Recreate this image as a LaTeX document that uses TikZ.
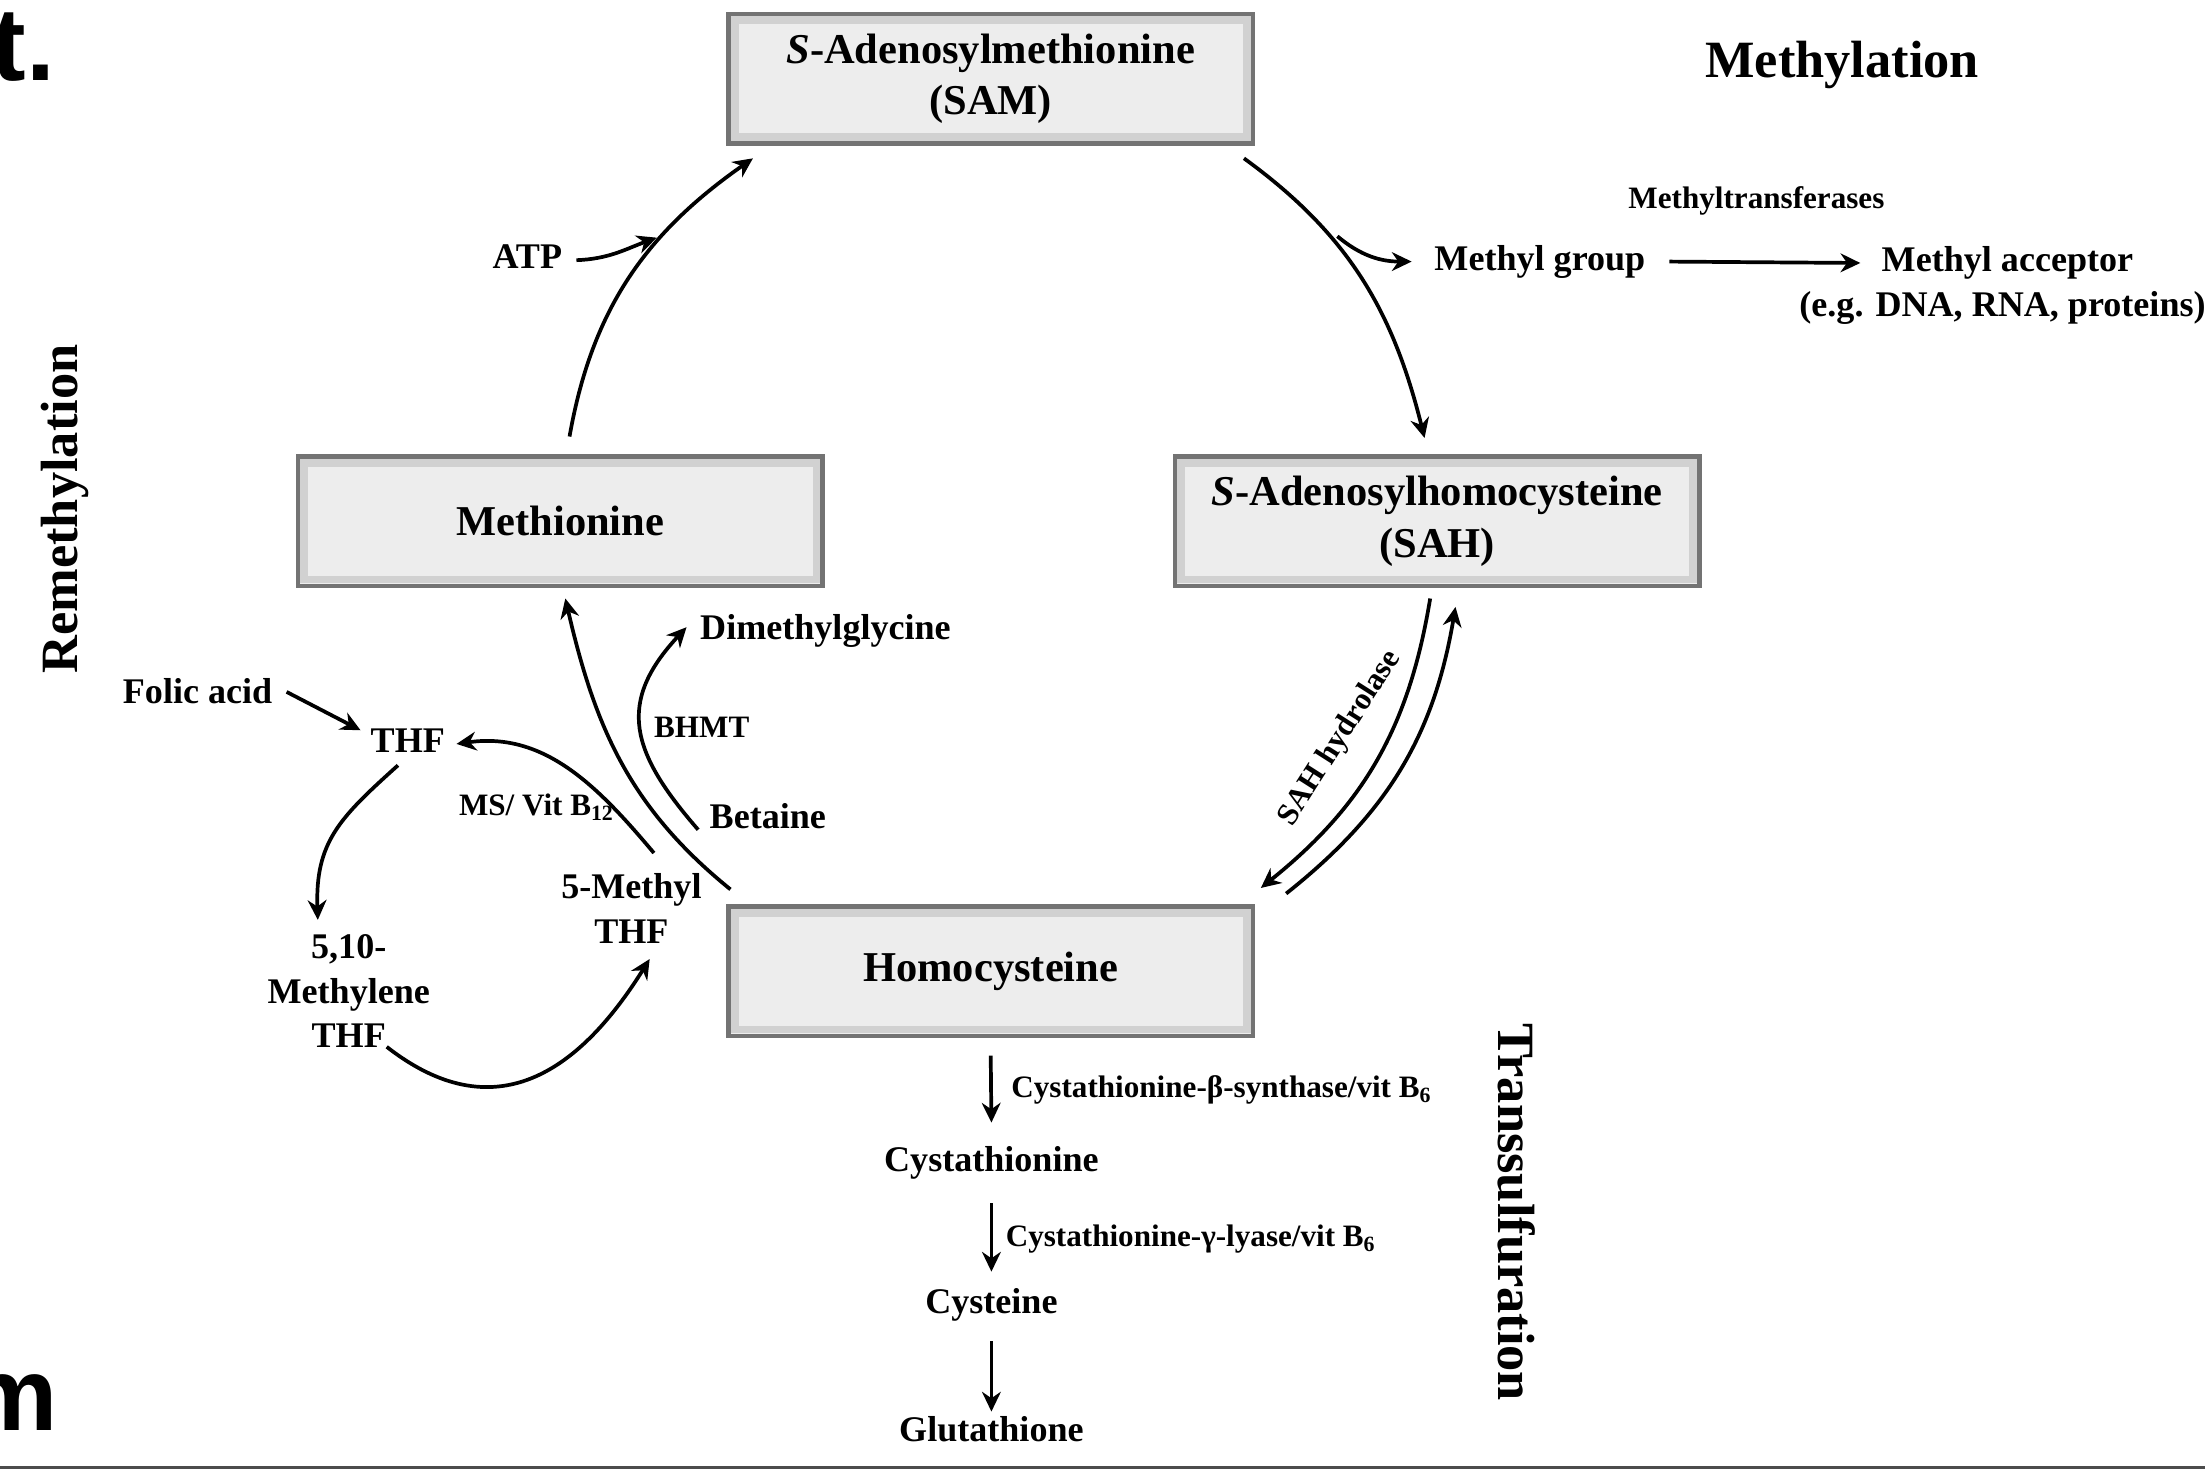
\documentclass[tikz,border=0pt]{standalone}
\usepackage{fontspec}
\setmainfont{Liberation Serif}
\newfontfamily\cutfont{Liberation Sans}
\usetikzlibrary{arrows.meta}
\newcommand{\fs}[2]{\fontsize{#1}{#2}\selectfont}

\begin{document}
\begin{tikzpicture}[
	box/.style={draw=black!55, line width=0.9pt, fill=black!7, minimum width=3.73cm, minimum height=0.92cm, align=center, font=\bfseries\fs{8.6}{10.5}},
	lbl/.style={inner sep=1pt, text height=1.7mm, text depth=0.5mm, font=\bfseries\fs{7.3}{8.8}},
	multi/.style={inner sep=1pt, align=center, font=\bfseries\fs{7.3}{9}},
	enz/.style={inner sep=1pt, font=\bfseries\fs{6.3}{7.5}},
	titolo/.style={inner sep=0pt, font=\bfseries\fs{10.6}{12}},
	freccia/.style={line width=0.75pt, -{Stealth[length=4pt,width=3.8pt,inset=1.3pt]}}
	]
		\useasboundingbox (0,0) rectangle (15.68,-10.47);
		\node[anchor=base east, inner sep=0pt, font=\cutfont\bfseries\fs{21}{21}] (frt) at (0.40,-0.57) {t.}; % pezzi tagliati
		\node[anchor=base east, inner sep=0pt, font=\cutfont\bfseries\fs{21}{21}] (frm) at (0.42,-10.17) {m};
		\draw[black!70, line width=0.7pt] (0,-10.435) -- (15.68,-10.435);

		% scatole
		\node[box] (sam) at (7.045,-0.56) {\textit{S}-Adenosylmethionine\\(SAM)};
		\node[box] (met) at (3.985,-3.705) {Methionine};
		\node[box] (sah) at (10.22,-3.705) {\textit{S}-Adenosylhomocysteine\\(SAH)};
		\node[box] (hcy) at (7.045,-6.905) {Homocysteine};
		\foreach \b in {sam,met,sah,hcy}
			\draw[black!18, line width=1.6pt] ([shift={(0.06,-0.06)}]\b.north west) rectangle ([shift={(-0.06,0.06)}]\b.south east);

		\node[titolo] (metil) at (13.10,-0.46) {Methylation};
		\node[titolo, rotate=90] (remetil) at (0.46,-3.62) {Remethylation};
		\node[titolo, rotate=-90] (transs) at (10.785,-8.62) {Transsulfuration};

		\node[lbl] (atp) at (3.75,-1.85) {ATP};
		\node[lbl] (mgroup) at (10.95,-1.86) {Methyl group};
		\node[lbl] (macc) at (14.275,-1.87) {Methyl acceptor};
		\node[lbl] (eg) at (14.24,-2.19) {(e.g. DNA, RNA, proteins)};
		\node[enz] (mtrans) at (12.49,-1.43) {Methyltransferases};
		\node[enz, rotate=57.5] (sahhyd) at (9.53,-5.25) {SAH hydrolase};
		\node[lbl] (dmg) at (5.87,-4.49) {Dimethylglycine};
		\node[enz] (bhmt) at (4.99,-5.17) {BHMT};
		\node[lbl] (bet) at (5.46,-5.83) {Betaine};
		\node[lbl] (folic) at (1.405,-4.94) {Folic acid};
		\node[lbl] (thf) at (2.90,-5.29) {THF};
		\node[enz] (msvit) at (3.82,-5.74) {MS/ Vit B\textsubscript{12}};
		\node[multi] (mthf) at (4.49,-6.46) {5-Methyl\\THF};
		\node[multi] (methf) at (2.48,-7.05) {5,10-\\Methylene\\THF};
		\node[lbl] (cys) at (7.05,-8.27) {Cystathionine};
		\node[lbl] (cyst) at (7.05,-9.28) {Cysteine};
		\node[lbl] (glut) at (7.05,-10.19) {Glutathione};
		\node[enz, anchor=west] (cbs) at (7.15,-7.75) {Cystathionine-β-synthase/vit B\textsubscript{6}};
		\node[enz, anchor=west] (cgl) at (7.11,-8.81) {Cystathionine-γ-lyase/vit B\textsubscript{6}};

		\coordinate (atpin) at (4.67,-1.69); % sulla curva
		\coordinate (mgout) at (9.51,-1.68);

		% ciclo
		\draw[freccia] ([xshift=0.65mm,yshift=1.25mm]met.north) to[out=80,in=215] ([xshift=1.9mm,yshift=-0.9mm]sam.south west);
		\draw[freccia] ([xshift=0.6mm]atp.east) to[out=2,in=200] (atpin);
		\draw[freccia] ([xshift=-0.8mm,yshift=-0.9mm]sam.south east) to[out=-36,in=104] ([xshift=-0.9mm,yshift=1.15mm]sah.north);
		\draw[freccia] (mgout) to[out=-40,in=180] ([xshift=-1.2mm]mgroup.west);
		\draw[freccia] ([xshift=1.3mm]mgroup.east) -- ([xshift=-1.1mm]macc.west);
		\draw[freccia] ([xshift=-0.5mm,yshift=-0.75mm]sah.south) to[bend left=21] ([xshift=0.4mm,yshift=1.15mm]hcy.north east);
		\draw[freccia] ([xshift=2.2mm,yshift=0.75mm]hcy.north east) to[bend right=21] ([xshift=1.3mm,yshift=-1.35mm]sah.south);
		\draw[freccia] ([xshift=0.3mm,yshift=1.05mm]hcy.north west) to[out=141,in=-77] ([xshift=0.35mm,yshift=-0.75mm]met.south);

		% rimetilazione
		\draw[freccia] ([xshift=-0.4mm,yshift=-0.7mm]bet.west) to[out=131,in=227,looseness=1.3] ([xshift=-0.55mm,yshift=0.3mm]dmg.west);
		\draw[freccia] ([xshift=1.6mm,yshift=1.05mm]mthf.north) to[out=130,in=8] ([xshift=0.4mm]thf.east);
		\draw[freccia] ([xshift=0.6mm,yshift=0.2mm]folic.east) -- ([xshift=-0.3mm,yshift=-0.55mm]thf.north west);
		\draw[freccia] ([xshift=-0.7mm]thf.south) to[out=222,in=92,looseness=1.15] ([xshift=-2.2mm,yshift=0.65mm]methf.north);
		\draw[freccia] ([xshift=2.7mm,yshift=0.5mm]methf.south) to[out=-38,in=238,looseness=1.25] ([xshift=1.3mm,yshift=-0.7mm]mthf.south);

		% transsulfurazione
		\draw[freccia] ([yshift=-1.25mm]hcy.south) -- ([yshift=1.35mm]cys.north);
		\draw[freccia] ([yshift=-1.35mm]cys.south) -- ([yshift=0.85mm]cyst.north);
		\draw[freccia] ([yshift=-1.05mm]cyst.south) -- (glut.north);
	\end{tikzpicture}
\end{document}
